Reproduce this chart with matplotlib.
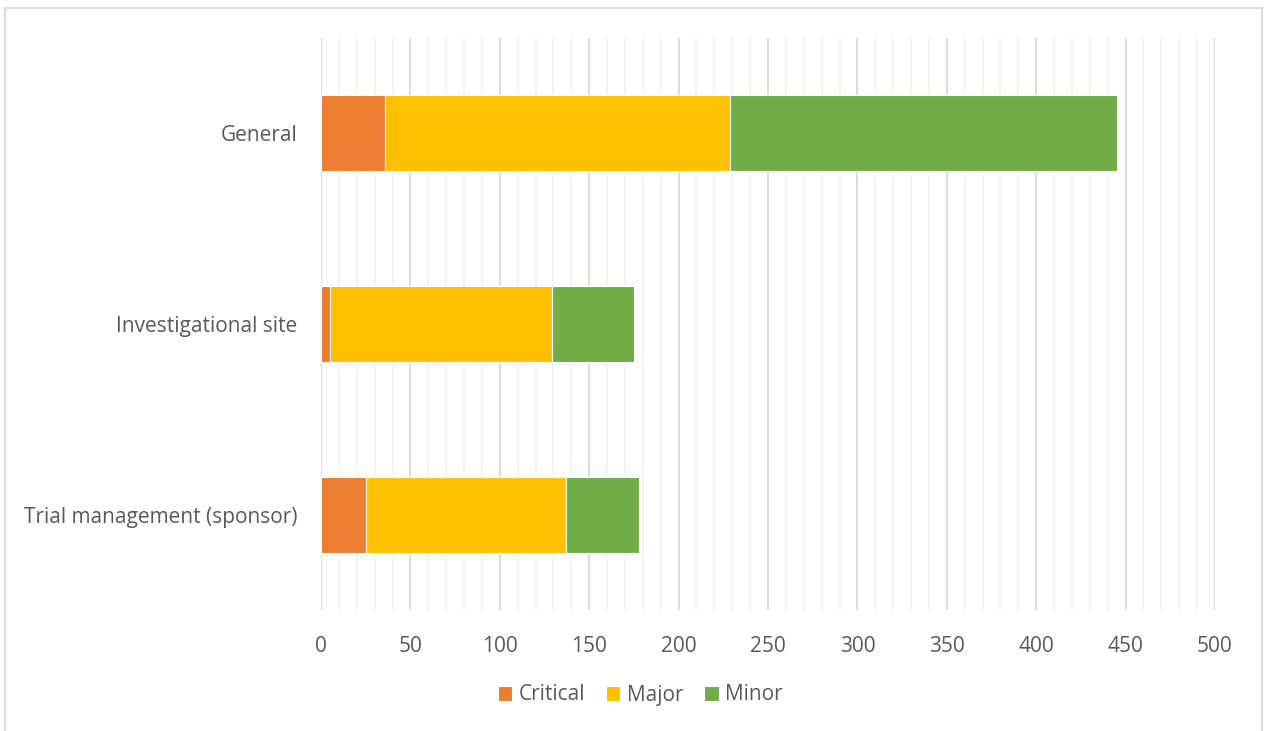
import matplotlib.pyplot as plt
from matplotlib.patches import Rectangle
from matplotlib.ticker import MultipleLocator
import numpy as np

categories = ['General', 'Investigational site', 'Trial management (sponsor)']
critical = [36, 5, 25]
major = [193, 124, 112]
minor = [216, 46, 41]

series = ['Critical', 'Major', 'Minor']
colors = ['#ED7D31', '#FFC000', '#70AD47']

plt.rcParams['font.family'] = ['Open Sans', 'DejaVu Sans']

W, H = 1270, 731
fig = plt.figure(figsize=(W / 100, H / 100), dpi=100)
ax = fig.add_axes([321 / W, 1 - 610 / H, (1215 - 321) / W, (610 - 38) / H])

y = np.arange(len(categories))
left = np.zeros(len(categories))
for name, vals, c in zip(series, [critical, major, minor], colors):
    ax.barh(y, vals, left=left, height=0.4, color=c, edgecolor='white',
            linewidth=0.8, label=name, zorder=3)
    left += np.array(vals)

ax.set_ylim(2.5, -0.5)
ax.set_xlim(0, 500)
ax.set_yticks(y)
ax.set_yticklabels(categories)
ax.xaxis.set_major_locator(MultipleLocator(50))
ax.xaxis.set_minor_locator(MultipleLocator(10))
ax.grid(axis='x', which='major', color='#D9D9D9', linewidth=1.3, zorder=0)
ax.grid(axis='x', which='minor', color='#F2F2F2', linewidth=1.3, zorder=0)
ax.tick_params(axis='both', which='both', length=0, labelsize=15,
               labelcolor='#595959')
ax.tick_params(axis='x', pad=19)
ax.tick_params(axis='y', pad=17)
for s in ax.spines.values():
    s.set_visible(False)

fig.legend(loc='center', bbox_to_anchor=(640 / W, 1 - 695 / H), ncol=3,
           frameon=False, fontsize=15, handlelength=0.7, handleheight=0.7,
           handletextpad=0.3, columnspacing=1.0, labelcolor='#595959')

fig.add_artist(Rectangle((5 / W, -0.05), (1262 - 5) / W, 1.05 - 8 / H,
                         transform=fig.transFigure, fill=False,
                         edgecolor='#D9D9D9', linewidth=1.3))

fig.savefig('out.png', dpi=100)
